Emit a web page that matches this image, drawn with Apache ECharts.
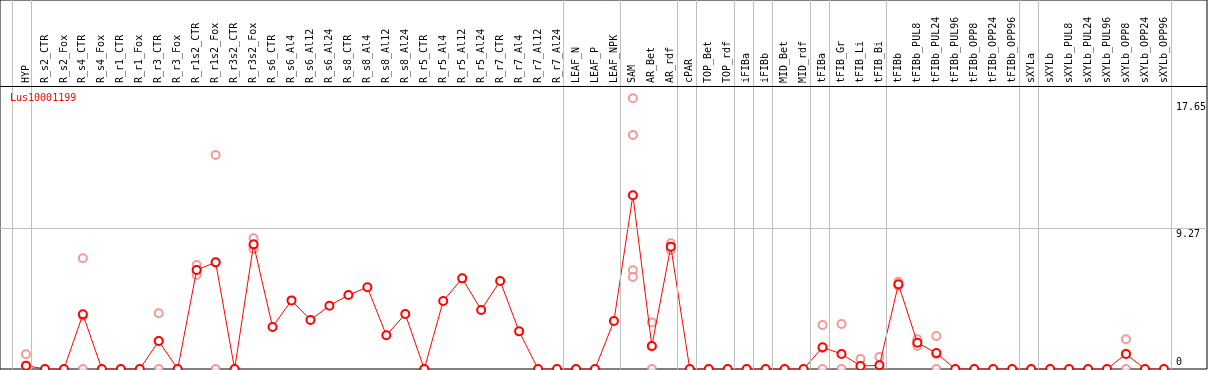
<!DOCTYPE html>
<html>
<head>
<meta charset="utf-8">
<script src="https://cdn.jsdelivr.net/npm/echarts/dist/echarts.min.js"></script>
<style>
  html, body { margin: 0; padding: 0; background: #fff; }
  #chart { width: 1209px; height: 370px; }
</style>
</head>
<body>
<div id="chart"></div>
<script>
var geneName = 'Lus10001199';

var categories = ['HYP', 'R_s2_CTR', 'R_s2_Fox', 'R_s4_CTR', 'R_s4_Fox', 'R_r1_CTR', 'R_r1_Fox',
	'R_r3_CTR', 'R_r3_Fox', 'R_r1s2_CTR', 'R_r1s2_Fox', 'R_r3s2_CTR', 'R_r3s2_Fox', 'R_s6_CTR',
	'R_s6_Al4', 'R_s6_Al12', 'R_s6_Al24', 'R_s8_CTR', 'R_s8_Al4', 'R_s8_Al12', 'R_s8_Al24',
	'R_r5_CTR', 'R_r5_Al4', 'R_r5_Al12', 'R_r5_Al24', 'R_r7_CTR', 'R_r7_Al4', 'R_r7_Al12',
	'R_r7_Al24', 'LEAF_N', 'LEAF_P', 'LEAF_NPK', 'SAM', 'AR_Bet', 'AR_rdf', 'cPAR', 'TOP_Bet',
	'TOP_rdf', 'iFIBa', 'iFIBb', 'MID_Bet', 'MID_rdf', 'tFIBa', 'tFIB_Gr', 'tFIB_Li', 'tFIB_Bi',
	'tFIBb', 'tFIBb_PUL8', 'tFIBb_PUL24', 'tFIBb_PUL96', 'tFIBb_OPP8', 'tFIBb_OPP24',
	'tFIBb_OPP96', 'sXYLa', 'sXYLb', 'sXYLb_PUL8', 'sXYLb_PUL24', 'sXYLb_PUL96', 'sXYLb_OPP8',
	'sXYLb_OPP24', 'sXYLb_OPP96'];

// mean expression per sample
var means = [0.22, 0, 0, 3.6, 0, 0, 0, 1.84, 0, 6.52, 7.03, 0, 8.21, 2.77,
	4.52, 3.23, 4.17, 4.87, 5.38, 2.22, 3.62,
	0, 4.48, 5.97, 3.89, 5.80, 2.48, 0,
	0, 0, 0, 3.16, 11.44, 1.52, 8.06, 0, 0,
	0, 0, 0, 0, 0, 1.43, 0.99, 0.2, 0.24,
	5.58, 1.73, 1.05, 0, 0, 0,
	0, 0, 0, 0, 0, 0, 0.99,
	0, 0];

// single replicates [sample index, value]
var replicates = [
	[0, 0.97], [0, 0],
	[3, 7.29], [3, 3.5], [3, 0],
	[7, 3.67], [7, 1.85], [7, 0],
	[9, 6.85], [9, 6.52], [9, 6.19],
	[10, 14.1], [10, 7.0], [10, 0],
	[12, 8.61], [12, 8.12], [12, 7.9],
	[32, 17.83], [32, 15.42], [32, 6.5], [32, 6.06],
	[33, 3.07], [33, 1.49], [33, 0],
	[34, 8.28], [34, 8.06], [34, 7.84],
	[42, 2.9], [42, 1.39], [42, 0],
	[43, 2.96], [43, 0],
	[44, 0.66], [44, 0],
	[45, 0.79], [45, 0],
	[46, 5.75], [46, 5.5], [46, 5.5],
	[47, 1.96], [47, 1.72], [47, 1.52],
	[48, 2.17], [48, 0.98], [48, 0],
	[58, 1.96], [58, 1.0], [58, 0]
];

// last sample of each tissue group (-1 = before the first one)
var groupEnds = [-1, 0, 28, 31, 34, 35, 37, 38, 39, 41, 42, 45, 52, 53, 60];
var yTicks = [0, 9.27, 17.65];

var yMax = 18.64;
var font = 'DejaVu Sans Mono';

var myChart = echarts.init(document.getElementById('chart'));

var option = {
	animation: false,
	backgroundColor: '#fff',
	title: {
		text: geneName,
		left: 10,
		top: 93,
		padding: 0,
		textStyle: {
			color: '#ff0000',
			fontSize: 10,
			fontWeight: 'normal',
			fontFamily: font
		}
	},
	grid: [{
		// plot area
		left: 16.5,
		width: 1159,
		top: 86,
		height: 283
	}, {
		// outer frame
		left: 0,
		top: 0,
		width: 1207,
		height: 369,
		show: true,
		borderColor: '#000',
		borderWidth: 1,
		z: 0
	}],
	xAxis: [{
		type: 'category',
		gridIndex: 0,
		position: 'top',
		data: categories,
		axisLine: { show: false },
		axisTick: { show: false },
		axisLabel: {
			interval: 0,
			rotate: 90,
			margin: 3,
			padding: [0, 0, 4, 0],
			color: '#000',
			fontSize: 10,
			fontFamily: font
		}
	}, {
		type: 'value',
		gridIndex: 1,
		show: false,
		min: -26 / 19,
		max: (1207 - 26) / 19
	}],
	yAxis: [{
		type: 'value',
		gridIndex: 0,
		position: 'right',
		min: 0,
		max: yMax,
		splitLine: { show: false },
		axisLine: { show: false },
		axisTick: { show: false },
		axisLabel: {
			customValues: yTicks,
			margin: 2.5,
			color: '#000',
			fontSize: 10,
			fontFamily: font,
			formatter: function (v) {
				return v === 0 ? '{b|0}' : '{t|' + v + '}';
			},
			rich: {
				t: { padding: [12, 0, 0, 0], fontSize: 10, fontFamily: font },
				b: { padding: [0, 0, 14, 0], fontSize: 10, fontFamily: font }
			}
		}
	}, {
		type: 'value',
		gridIndex: 1,
		show: false,
		min: 0,
		max: yMax * 369 / 283
	}],
	series: [{
			// group separators, header rule and the 9.27 guide
			type: 'line',
			xAxisIndex: 1,
			yAxisIndex: 1,
			data: [],
			silent: true,
			z: 1,
			markLine: {
				symbol: 'none',
				silent: true,
				label: { show: false },
				lineStyle: { color: '#c0c0c0', width: 1, type: 'solid' },
				data: groupEnds.map(function (g) {
					return { xAxis: g + 0.25 };
				}).concat([
					{ yAxis: yTicks[1] },
					{ yAxis: yMax, lineStyle: { color: '#000', width: 1, type: 'solid' } }
				])
			}
		},
		{
			name: 'replicates',
			type: 'scatter',
			xAxisIndex: 0,
			yAxisIndex: 0,
			data: replicates,
			symbol: 'emptyCircle',
			symbolSize: 8,
			itemStyle: {
				color: '#f08080',
				borderColor: '#f08080',
				borderWidth: 1.2
			},
			z: 3
		},
		{
			name: geneName,
			type: 'line',
			xAxisIndex: 0,
			yAxisIndex: 0,
			data: means,
			symbol: 'emptyCircle',
			symbolSize: 8,
			lineStyle: { color: '#ff0000', width: 1 },
			itemStyle: {
				color: '#ff0000',
				borderColor: '#ff0000',
				borderWidth: 1.5
			},
			z: 4
		}
	]
};

myChart.setOption(option);
</script>
</body>
</html>
